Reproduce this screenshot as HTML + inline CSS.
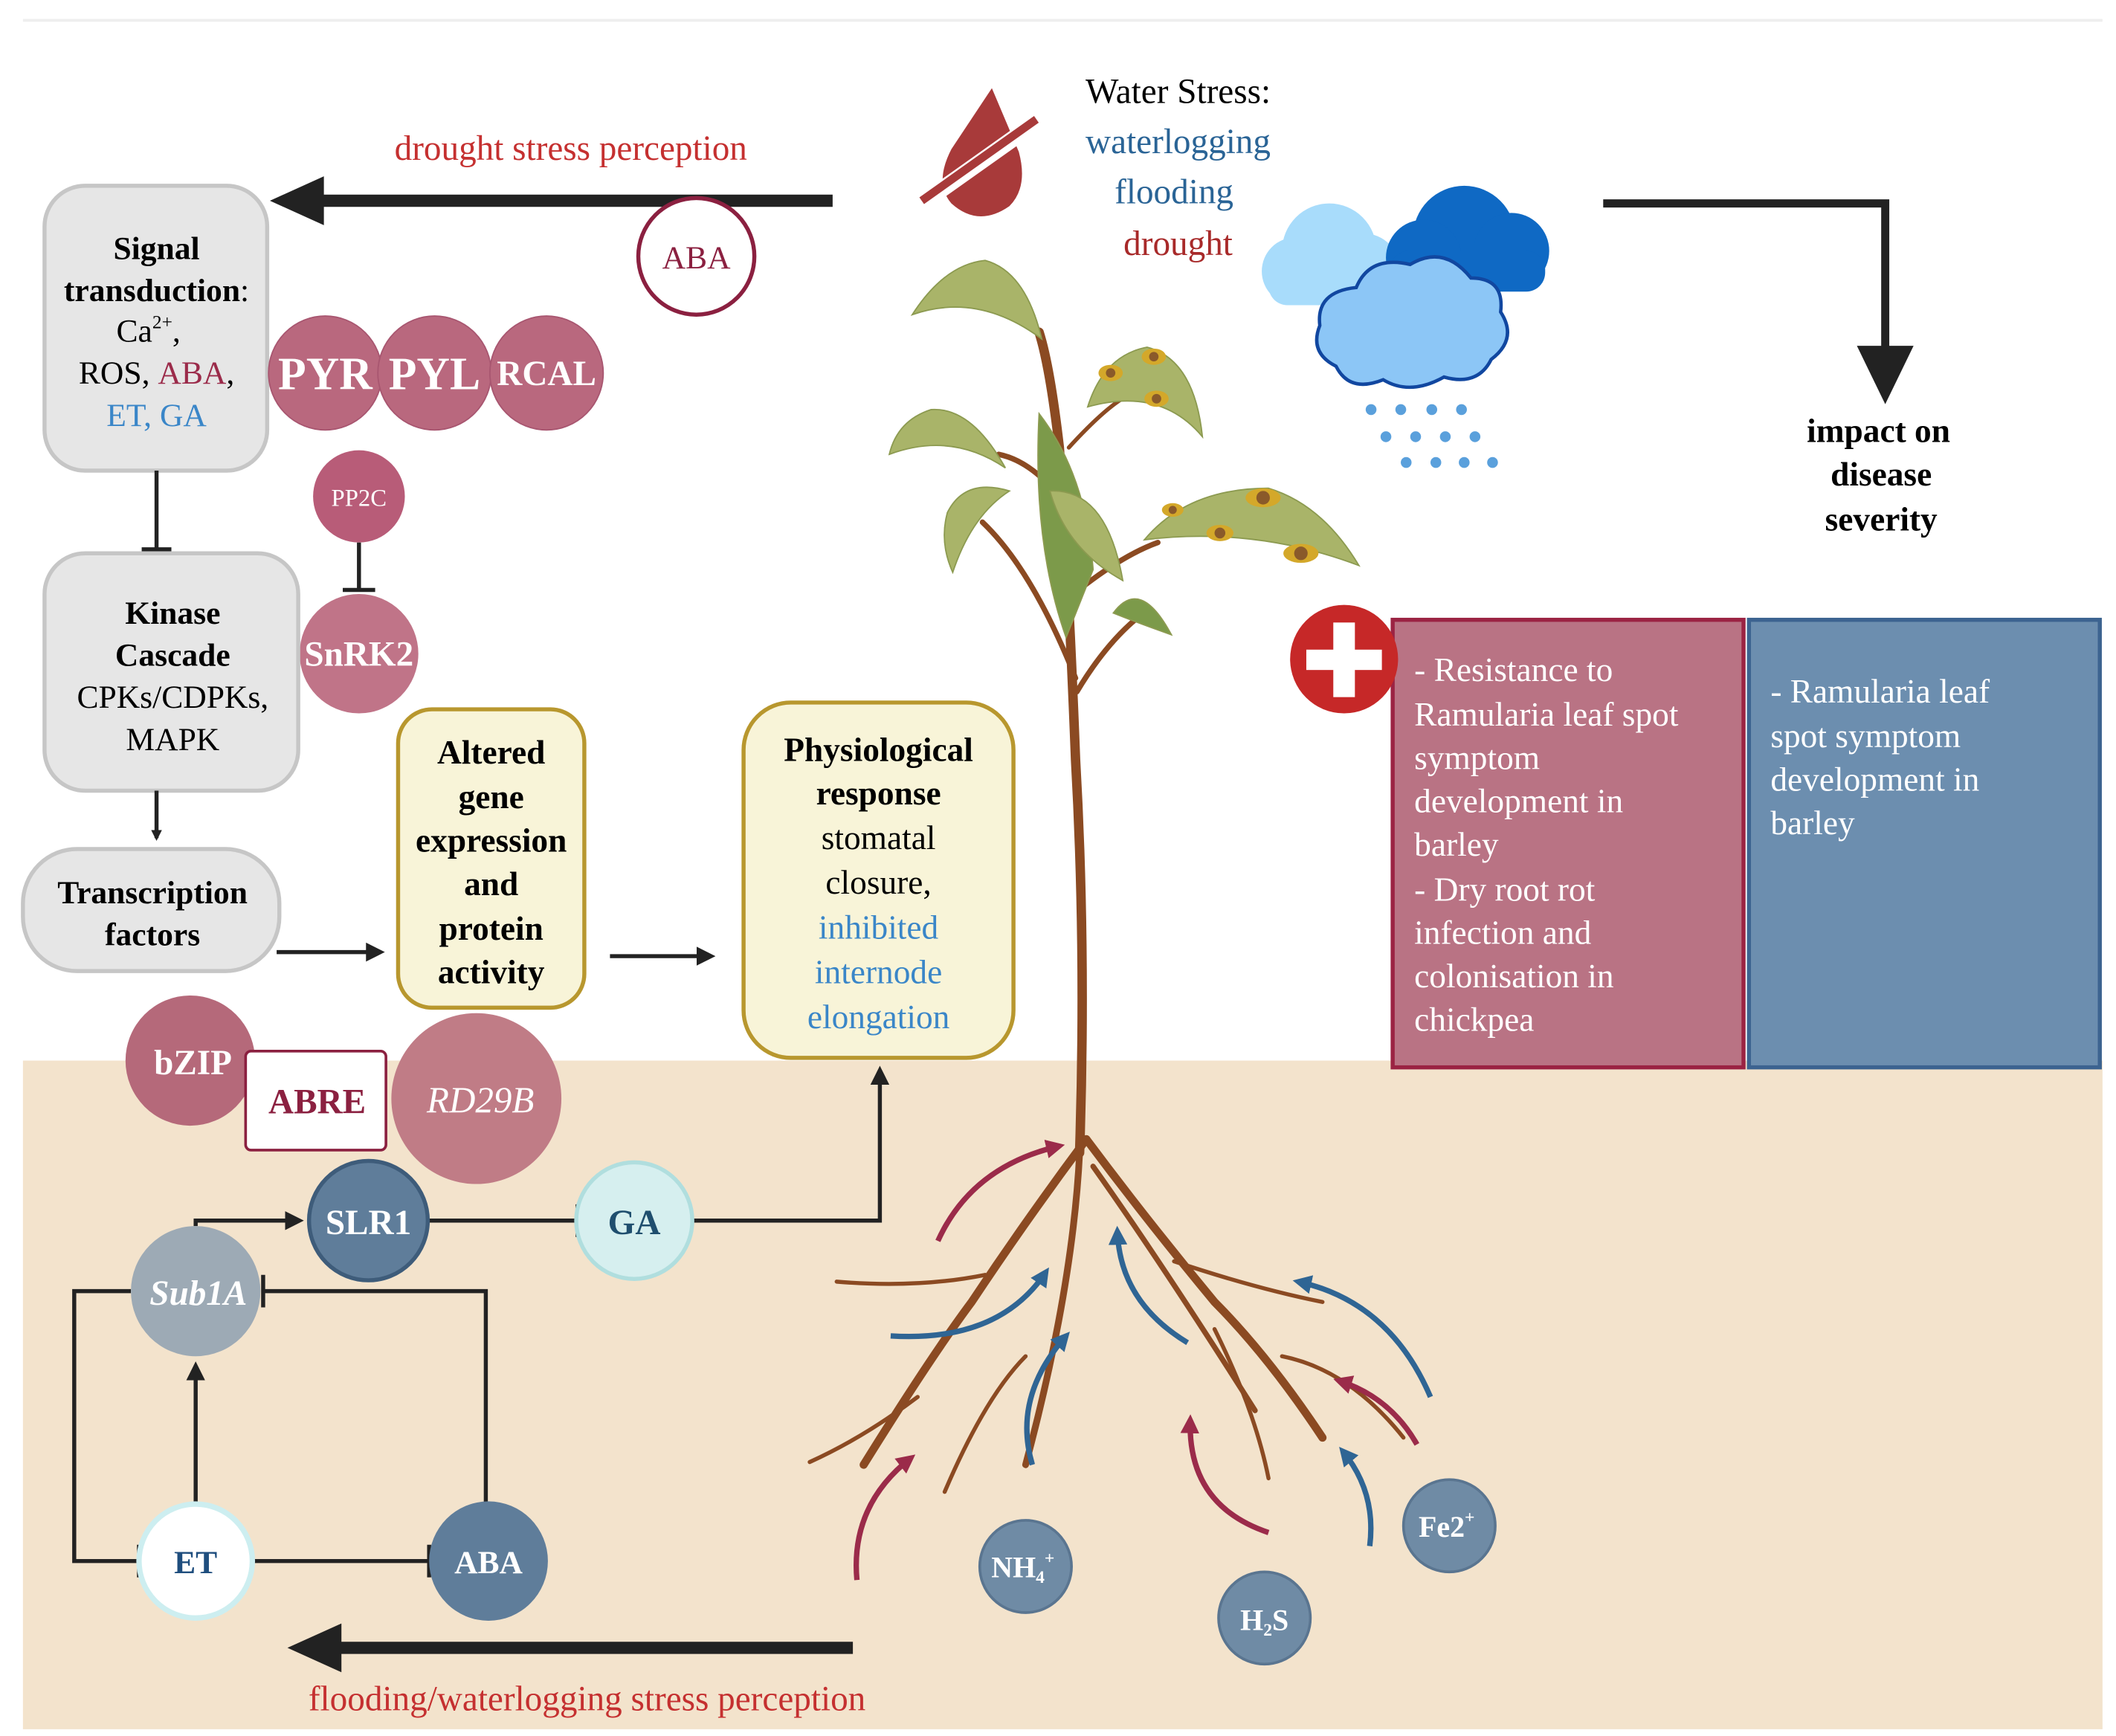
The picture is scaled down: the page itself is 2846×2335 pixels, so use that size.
<!DOCTYPE html>
<html><head><meta charset="utf-8"><style>
html,body{margin:0;padding:0;background:#fff;}
svg{display:block;}
text{font-family:"Liberation Serif",serif;}
</style></head><body>
<svg width="2846" height="2335" viewBox="0 0 1568 1280" preserveAspectRatio="none" xmlns="http://www.w3.org/2000/svg">
<defs>
<marker id="ah" markerWidth="8" markerHeight="8" refX="6" refY="4" orient="auto" markerUnits="userSpaceOnUse"><path d="M0,0 L8,4 L0,8 z" fill="#222"/></marker>
<marker id="ahs" viewBox="0 0 10 10" markerWidth="14" markerHeight="14" refX="7" refY="5" orient="auto" markerUnits="userSpaceOnUse"><path d="M0,0 L10,5 L0,10 z" fill="#222"/></marker>
<marker id="ahr" viewBox="0 0 10 10" markerWidth="14" markerHeight="14" refX="7" refY="5" orient="auto" markerUnits="userSpaceOnUse"><path d="M0,0 L10,5 L0,10 z" fill="#9b2b4a"/></marker>
<marker id="ahb" viewBox="0 0 10 10" markerWidth="14" markerHeight="14" refX="7" refY="5" orient="auto" markerUnits="userSpaceOnUse"><path d="M0,0 L10,5 L0,10 z" fill="#2f6594"/></marker>
</defs>
<rect width="1568" height="1280" fill="#fff"/>
<line x1="17" y1="15" x2="1558" y2="15" stroke="#eee" stroke-width="2"/>
<rect x="17" y="782" width="1541" height="493" fill="#f3e3cc"/>

<!-- top drought arrow -->
<text x="423" y="118" font-size="26" fill="#c53030" text-anchor="middle">drought stress perception</text>
<line x1="617" y1="148" x2="235" y2="148" stroke="#222" stroke-width="9"/>
<path d="M200,148 L240,130 L240,166 z" fill="#222"/>
<circle cx="516" cy="189" r="43" fill="#fff" stroke="#8b2040" stroke-width="3"/>
<text x="516" y="198" font-size="24" fill="#8b2040" text-anchor="middle">ABA</text>

<!-- Signal box -->
<rect x="33" y="137" width="165" height="210" rx="30" fill="#e6e6e6" stroke="#c6c6c6" stroke-width="3"/>
<g font-size="24" text-anchor="middle">
<text x="116" y="191" font-weight="bold">Signal</text>
<text x="116" y="222" font-weight="bold">transduction<tspan font-weight="normal">:</tspan></text>
<text x="110" y="252">Ca<tspan font-size="14" dy="-10">2+</tspan><tspan dy="10">,</tspan></text>
<text x="116" y="283">ROS, <tspan fill="#9b2b4a">ABA</tspan>,</text>
<text x="116" y="314" fill="#3a86c8">ET, GA</text>
</g>
<g fill="#b9687e" stroke="#a85670" stroke-width="1">
<circle cx="241" cy="275" r="42"/><circle cx="322" cy="275" r="42"/><circle cx="405" cy="275" r="42"/>
</g>
<g fill="#fff" font-weight="bold" text-anchor="middle">
<text x="241" y="287" font-size="34">PYR</text>
<text x="322" y="287" font-size="34">PYL</text>
<text x="405" y="284" font-size="26">RCAL</text>
</g>
<circle cx="266" cy="366" r="34" fill="#b85c78"/>
<text x="266" y="373" font-size="18" fill="#fff" text-anchor="middle">PP2C</text>
<line x1="266" y1="400" x2="266" y2="435" stroke="#222" stroke-width="3"/>
<line x1="254" y1="435" x2="278" y2="435" stroke="#222" stroke-width="3"/>
<circle cx="266" cy="482" r="44" fill="#c07488"/>
<text x="266" y="491" font-size="26" fill="#fff" font-weight="bold" text-anchor="middle">SnRK2</text>
<line x1="116" y1="347" x2="116" y2="405" stroke="#222" stroke-width="3"/>
<line x1="105" y1="405" x2="127" y2="405" stroke="#222" stroke-width="3"/>

<!-- Kinase box -->
<rect x="33" y="408" width="188" height="175" rx="30" fill="#e6e6e6" stroke="#c6c6c6" stroke-width="3"/>
<g font-size="24" text-anchor="middle">
<text x="128" y="460" font-weight="bold">Kinase</text>
<text x="128" y="491" font-weight="bold">Cascade</text>
<text x="128" y="522">CPKs/CDPKs,</text>
<text x="128" y="553">MAPK</text>
</g>
<line x1="116" y1="583" x2="116" y2="618" stroke="#222" stroke-width="3" marker-end="url(#ah)"/>
<rect x="17" y="626" width="190" height="90" rx="40" fill="#e6e6e6" stroke="#c6c6c6" stroke-width="3"/>
<text x="113" y="666" font-size="24" font-weight="bold" text-anchor="middle">Transcription</text>
<text x="113" y="697" font-size="24" font-weight="bold" text-anchor="middle">factors</text>
<line x1="205" y1="702" x2="281" y2="702" stroke="#222" stroke-width="3" marker-end="url(#ahs)"/>

<!-- Altered box -->
<rect x="295" y="523" width="138" height="220" rx="25" fill="#f8f4d8" stroke="#b8972e" stroke-width="3"/>
<g font-size="25" font-weight="bold" text-anchor="middle">
<text x="364" y="563">Altered</text><text x="364" y="596">gene</text><text x="364" y="628">expression</text>
<text x="364" y="660">and</text><text x="364" y="693">protein</text><text x="364" y="725">activity</text>
</g>
<line x1="452" y1="705" x2="526" y2="705" stroke="#222" stroke-width="3" marker-end="url(#ahs)"/>

<!-- Physiological box -->
<rect x="551" y="518" width="200" height="262" rx="35" fill="#f8f4d8" stroke="#b8972e" stroke-width="3"/>
<g font-size="25" text-anchor="middle">
<text x="651" y="561" font-weight="bold">Physiological</text>
<text x="651" y="593" font-weight="bold">response</text>
<text x="651" y="626">stomatal</text><text x="651" y="659">closure,</text>
<text x="651" y="692" fill="#3a86c8">inhibited</text><text x="651" y="725" fill="#3a86c8">internode</text><text x="651" y="758" fill="#3a86c8">elongation</text>
</g>

<!-- bZIP etc -->
<circle cx="141" cy="782" r="48" fill="#b5697a"/>
<text x="143" y="792" font-size="26" font-weight="bold" fill="#fff" text-anchor="middle">bZIP</text>
<circle cx="353" cy="810" r="63" fill="#c07c86"/>
<text x="356" y="820" font-size="27" font-style="italic" fill="#fff" text-anchor="middle">RD29B</text>
<rect x="182" y="775" width="104" height="73" rx="4" fill="#fff" stroke="#8b2040" stroke-width="2"/>
<text x="235" y="821" font-size="26" font-weight="bold" fill="#8b2040" text-anchor="middle" font-family="Liberation Sans, sans-serif">ABRE</text>

<!-- flooding network -->
<line x1="317" y1="900" x2="428" y2="900" stroke="#222" stroke-width="3"/>
<line x1="428" y1="888" x2="428" y2="912" stroke="#222" stroke-width="3"/>
<polyline points="514,900 652,900 652,790" fill="none" stroke="#222" stroke-width="3" marker-end="url(#ahs)"/>
<polyline points="145,904 145,900 221,900" fill="none" stroke="#222" stroke-width="3" marker-end="url(#ahs)"/>
<polyline points="97,952 55,952 55,1151 103,1151" fill="none" stroke="#222" stroke-width="3"/>
<line x1="103" y1="1139" x2="103" y2="1163" stroke="#222" stroke-width="3"/>
<polyline points="360,1108 360,952 195,952" fill="none" stroke="#222" stroke-width="3"/>
<line x1="195" y1="940" x2="195" y2="964" stroke="#222" stroke-width="3"/>
<line x1="145" y1="1108" x2="145" y2="1008" stroke="#222" stroke-width="3" marker-end="url(#ahs)"/>
<line x1="188" y1="1151" x2="318" y2="1151" stroke="#222" stroke-width="3"/>
<line x1="318" y1="1139" x2="318" y2="1163" stroke="#222" stroke-width="3"/>
<circle cx="273" cy="900" r="44" fill="#5f7d9a" stroke="#3e5c7a" stroke-width="3"/>
<text x="273" y="910" font-size="26" font-weight="bold" fill="#fff" text-anchor="middle">SLR1</text>
<circle cx="470" cy="900" r="43" fill="#d6efef" stroke="#b0dede" stroke-width="3"/>
<text x="470" y="910" font-size="26" font-weight="bold" fill="#1f4e6e" text-anchor="middle">GA</text>
<circle cx="145" cy="952" r="48" fill="#9daab5"/>
<text x="147" y="962" font-size="26" font-weight="bold" font-style="italic" fill="#fff" text-anchor="middle">Sub1A</text>
<circle cx="145" cy="1151" r="42" fill="#fff" stroke="#cdeef0" stroke-width="4"/>
<text x="145" y="1160" font-size="24" font-weight="bold" fill="#1f4e7e" text-anchor="middle">ET</text>
<circle cx="362" cy="1151" r="44" fill="#5f7d9a"/>
<text x="362" y="1160" font-size="24" font-weight="bold" fill="#fff" text-anchor="middle">ABA</text>

<!-- bottom arrow -->
<line x1="632" y1="1215" x2="250" y2="1215" stroke="#222" stroke-width="9"/>
<path d="M213,1215 L253,1197 L253,1233 z" fill="#222"/>
<text x="435" y="1261" font-size="26" fill="#c53030" text-anchor="middle">flooding/waterlogging  stress perception</text>

<!-- drop icon -->
<path d="M735,65 L705,110 Q692,135 705,150 Q725,168 748,152 Q762,138 755,112 z" fill="#a83a3a"/>
<line x1="683" y1="150" x2="768" y2="90" stroke="#fff" stroke-width="12"/>
<line x1="683" y1="148" x2="768" y2="88" stroke="#a83a3a" stroke-width="6"/>

<g font-size="26" text-anchor="middle">
<text x="873" y="76">Water Stress:</text>
<text x="873" y="113" fill="#2a6496">waterlogging</text>
<text x="870" y="150" fill="#2a6496">flooding</text>
<text x="873" y="188" fill="#a82a2a">drought</text>
</g>

<!-- clouds -->
<g fill="#a8dcfb"><circle cx="985" cy="185" r="35"/><circle cx="960" cy="200" r="25"/><circle cx="1010" cy="200" r="28"/><rect x="940" y="195" width="90" height="30" rx="14"/></g>
<g fill="#0f69c4"><circle cx="1085" cy="175" r="38"/><circle cx="1055" cy="190" r="28"/><circle cx="1120" cy="185" r="28"/><rect x="1030" y="185" width="115" height="30" rx="14"/></g>
<g fill="#8cc6f6" stroke="#1147a0" stroke-width="2.5">
<path d="M990,270 Q970,260 978,240 Q975,215 1005,212 Q1015,188 1045,195 Q1070,180 1090,205 Q1115,205 1112,230 Q1125,250 1105,265 Q1095,285 1070,278 Q1045,292 1025,280 Q1000,290 990,270 z"/>
</g>
<g fill="#5aa0dc">
<circle cx="1016" cy="302" r="4"/><circle cx="1038" cy="302" r="4"/><circle cx="1061" cy="302" r="4"/><circle cx="1083" cy="302" r="4"/>
<circle cx="1027" cy="322" r="4"/><circle cx="1049" cy="322" r="4"/><circle cx="1071" cy="322" r="4"/><circle cx="1093" cy="322" r="4"/>
<circle cx="1042" cy="341" r="4"/><circle cx="1064" cy="341" r="4"/><circle cx="1085" cy="341" r="4"/><circle cx="1106" cy="341" r="4"/>
</g>

<!-- right arrow -->
<polyline points="1188,150 1397,150 1397,258" fill="none" stroke="#222" stroke-width="6"/>
<path d="M1376,255 L1418,255 L1397,298 z" fill="#222"/>
<g font-size="25" font-weight="bold" text-anchor="middle">
<text x="1392" y="326">impact on</text><text x="1394" y="358">disease</text><text x="1394" y="391">severity</text>
</g>

<!-- boxes -->
<rect x="1032" y="457" width="260" height="330" fill="#b97384" stroke="#9b2343" stroke-width="3"/>
<rect x="1296" y="457" width="260" height="330" fill="#6c8eaf" stroke="#3c6390" stroke-width="3"/>
<g font-size="25" fill="#fff">
<text x="1048" y="502">- Resistance to</text><text x="1048" y="535">Ramularia leaf spot</text><text x="1048" y="567">symptom</text>
<text x="1048" y="599">development in</text><text x="1048" y="631">barley</text><text x="1048" y="664">- Dry root rot</text>
<text x="1048" y="696">infection and</text><text x="1048" y="728">colonisation in</text><text x="1048" y="760">chickpea</text>
<text x="1312" y="518">- Ramularia leaf</text><text x="1312" y="551">spot symptom</text><text x="1312" y="583">development in</text><text x="1312" y="615">barley</text>
</g>
<circle cx="996" cy="486" r="40" fill="#c62828"/>
<rect x="968" y="479" width="56" height="15" fill="#fff"/><rect x="988" y="459" width="16" height="55" fill="#fff"/>

<!-- plant stems -->
<g fill="none" stroke="#8b4a22" stroke-linecap="round">
<path d="M800,850 Q805,700 797,560 Q792,430 785,330 Q778,270 770,245" stroke-width="7"/>
<path d="M797,500 Q765,420 728,385" stroke-width="4"/>
<path d="M793,440 Q830,410 858,400" stroke-width="4"/>
<path d="M788,370 Q765,340 740,335" stroke-width="4"/>
<path d="M798,510 Q822,470 850,450" stroke-width="4"/>
<path d="M792,330 Q815,305 830,295" stroke-width="3"/>
<path d="M805,840 Q760,900 720,960 Q690,1000 640,1080" stroke-width="6"/>
<path d="M805,840 Q850,900 900,960 Q940,1000 980,1060" stroke-width="6"/>
<path d="M800,850 Q795,950 760,1080" stroke-width="5"/>
<path d="M810,860 Q860,930 930,1040" stroke-width="4"/>
<path d="M730,940 Q680,950 620,945" stroke-width="3"/>
<path d="M870,930 Q930,950 980,960" stroke-width="3"/>
<path d="M680,1030 Q640,1060 600,1078" stroke-width="3"/>
<path d="M950,1000 Q1000,1010 1040,1060" stroke-width="3"/>
<path d="M760,1000 Q730,1030 700,1100" stroke-width="3"/>
<path d="M900,980 Q930,1040 940,1090" stroke-width="3"/>
</g>
<!-- leaves -->
<g fill="#a9b469" stroke="#8c9a50" stroke-width="1">
<path d="M772,250 Q760,200 730,192 Q700,195 676,232 Q725,215 772,250 z"/>
<path d="M745,345 Q720,300 690,302 Q665,310 659,335 Q705,318 745,345 z"/>
<path d="M748,362 Q715,352 702,378 Q696,400 706,422 Q720,380 748,362 z"/>
<path d="M806,300 Q818,262 850,256 Q885,265 891,322 Q860,285 806,300 z"/>
<path d="M848,398 Q880,360 940,360 Q980,372 1007,417 Q930,388 848,398 z"/>
<path d="M790,470 Q765,400 770,305 Q805,350 810,420 z" fill="#7c9a4a"/>
<path d="M832,428 Q820,360 778,362 Q790,405 832,428 z"/>
<path d="M825,452 Q845,425 868,468 Q845,460 825,452 z" fill="#7c9a4a"/>
</g>
<g fill="#d4a82a"><ellipse cx="855" cy="263" rx="9" ry="6"/><ellipse cx="823" cy="275" rx="9" ry="6"/><ellipse cx="857" cy="294" rx="9" ry="6"/><ellipse cx="936" cy="367" rx="13" ry="7"/><ellipse cx="964" cy="408" rx="13" ry="7"/><ellipse cx="904" cy="393" rx="10" ry="6"/><ellipse cx="869" cy="376" rx="8" ry="5"/></g>
<g fill="#8a5a2a"><circle cx="855" cy="263" r="3.5"/><circle cx="823" cy="275" r="3.5"/><circle cx="857" cy="294" r="3.5"/><circle cx="936" cy="367" r="5"/><circle cx="964" cy="408" r="5"/><circle cx="904" cy="393" r="4"/><circle cx="869" cy="376" r="3"/></g>

<!-- root arrows -->
<g fill="none" stroke-width="4">
<path d="M695,915 Q720,860 785,845" stroke="#9b2b4a" marker-end="url(#ahr)"/>
<path d="M660,985 Q740,990 775,938" stroke="#2f6594" marker-end="url(#ahb)"/>
<path d="M880,990 Q830,960 828,908" stroke="#2f6594" marker-end="url(#ahb)"/>
<path d="M765,1080 Q750,1030 790,985" stroke="#2f6594" marker-end="url(#ahb)"/>
<path d="M1060,1030 Q1030,960 962,945" stroke="#2f6594" marker-end="url(#ahb)"/>
<path d="M1050,1065 Q1030,1030 992,1018" stroke="#9b2b4a" marker-end="url(#ahr)"/>
<path d="M940,1130 Q880,1110 882,1047" stroke="#9b2b4a" marker-end="url(#ahr)"/>
<path d="M1015,1140 Q1020,1100 995,1070" stroke="#2f6594" marker-end="url(#ahb)"/>
<path d="M635,1165 Q630,1110 675,1075" stroke="#9b2b4a" marker-end="url(#ahr)"/>
</g>
<g fill="#6f8ba5" stroke="#5a7590" stroke-width="2">
<circle cx="760" cy="1155" r="34"/><circle cx="937" cy="1193" r="34"/><circle cx="1074" cy="1125" r="34"/>
</g>
<g fill="#fff" font-weight="bold" text-anchor="middle" font-size="22">
<text x="758" y="1163">NH<tspan font-size="13" dy="4">4</tspan><tspan font-size="13" dy="-14">+</tspan></text>
<text x="937" y="1202">H<tspan font-size="13" dy="4">2</tspan><tspan dy="-4">S</tspan></text>
<text x="1072" y="1133">Fe2<tspan font-size="13" dy="-10">+</tspan></text>
</g>
</svg>
</body></html>
